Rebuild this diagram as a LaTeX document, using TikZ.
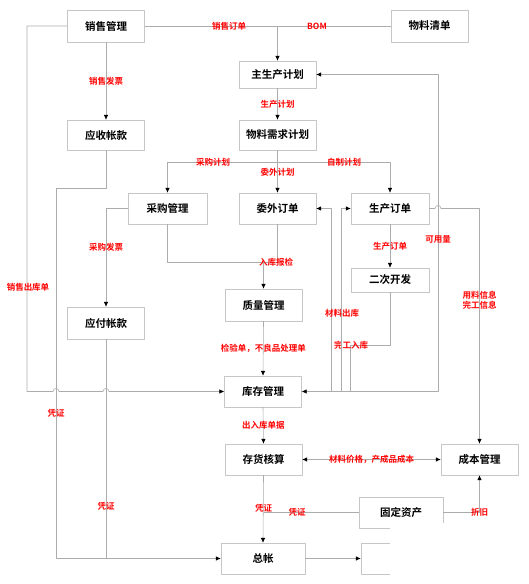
\documentclass[tikz,border=0pt]{standalone}
\usepackage{fontspec}
\newfontfamily\cjk{Noto Sans CJK SC}[BoldFont={Noto Sans CJK SC Bold}]
\usetikzlibrary{arrows.meta}

\tikzset{
  box/.style={draw=gray!45, minimum width=77pt, minimum height=31pt, inner sep=0pt,
    font=\cjk\bfseries\fontsize{10.5}{11}\selectfont},
  lab/.style={text=red, font=\cjk\bfseries\fontsize{8.5}{10}\selectfont, inner sep=0.5pt, align=center},
  conn/.style={draw=gray!65, line width=0.6pt},
}

\begin{document}
\begin{tikzpicture}[x=1pt, y=-1pt, >={Latex[length=5pt,width=4.5pt,color=black]}, line join=round]
\useasboundingbox (0,0) rectangle (529,584);
% boxes
\node[box, minimum height=32pt] (xs) at (106,26) {销售管理};
\node[box, minimum height=32pt] (bom) at (429.5,26) {物料清单};
\node[box, minimum height=27pt] (mps) at (277.5,74.5) {主生产计划};
\node[box, minimum height=30pt] (ar) at (106,135) {应收帐款};
\node[box, minimum height=30pt] (mrp) at (277.5,135) {物料需求计划};
\node[box, minimum width=79pt] (cg) at (167.5,208.5) {采购管理};
\node[box] (ww) at (277.5,208.5) {委外订单};
\node[box, minimum width=78pt] (sc) at (390,208.5) {生产订单};
\node[box, minimum height=24pt, minimum width=78pt] (ecc) at (390,280) {二次开发};
\node[box, minimum height=32pt] (ap) at (106,323) {应付帐款};
\node[box, minimum height=32pt] (zl) at (263.5,305) {质量管理};
\node[box] (kc) at (263,391.5) {库存管理};
\node[box] (ch) at (263.5,459.5) {存货核算};
\node[box] (cb) at (479.5,459.5) {成本管理};
\node[box, minimum width=84pt] (gd) at (401,512.5) {固定资产};
\node[box, minimum width=84pt] (zz) at (263,558.5) {总帐};
\node[box, minimum width=84pt] (bb) at (403,558.5) {};

% top row
\draw[conn] (xs.east) -- (bom.west);
\coordinate (jt) at (277.5,26);
\draw[conn,->] (jt) -- (mps.north);
\node[lab] (l1) at (229,26) {销售订单};
\node[lab] (l2) at (317,26) {BOM};
\draw[conn,->] (xs.south) -- node[lab] (l3) {销售发票} (ar.north);
\draw[conn,->] (mps.south) -- node[lab] (l4) {生产计划} (mrp.north);

% plans
\coordinate (br) at (277.5,162);
\draw[conn] (mrp.south) -- (br);
\draw[conn,->] (br) -| (cg.north);
\draw[conn,->] (br) -- (ww.north);
\draw[conn,->] (br) -| (sc.north);
\node[lab] (l5) at (213,162) {采购计划};
\node[lab] (l6) at (277.5,172) {委外计划};
\node[lab] (l7) at (344,162) {自制计划};

% available qty
\draw[conn,<->] (mps.east) -- (438,74.5) -- (438,391.5) -- (kc.east);
\node[lab] (l8) at (438,239) {可用量};

% purchase / receivables
\draw[conn,->] (cg.west) -| (ap.north);
\node[lab] (l9) at (106,247) {采购发票};
\draw[conn,->] (ar.south) -- (106,188) -- (56,188) -- (56,558.5) -- (zz.west);
\node[lab] (l10) at (56,413) {凭证};
\draw[conn] (ap.south) -- (106,558.5);
\node[lab] (l11) at (106,506) {凭证};
\draw[conn,->] (xs.west) -- (27,26) -- (27,391.5) -- (53,391.5)
  .. controls (53,387.5) and (59,387.5) .. (59,391.5) -- (103,391.5)
  .. controls (103,387.5) and (109,387.5) .. (109,391.5) -- (kc.west);
\node[lab] (l12) at (28,287) {销售出库单};

% inspection
\coordinate (rk) at (263.5,262);
\draw[conn] (cg.south) -- (cg.south |- rk) -- (rk);
\draw[conn] (ww.south) -- (ww.south |- rk) -- (rk);
\draw[conn,->] (rk) -- (zl.north);
\node[lab] (l13) at (276,262) {入库报检};
\draw[conn,->] (zl.south) -- node[lab] (l14) {检验单，不良品处理单} (kc.north);

% production orders
\draw[conn,->] (sc.south) -- node[lab] (l15) {生产订单} (ecc.north);
\draw[conn] (ecc.south) -- (390,345) -- (350,345) -- (350,391.5);
\node[lab] (l16) at (351,345) {完工入库};
\draw[conn,->] (331,391.5) -- (331,208.5) -- (ww.east);
\draw[conn,->] (341,391.5) -- (341,208.5) -- (sc.west);
\node[lab] (l17) at (342,313) {材料出库};
\draw[conn,->] (sc.east) -- (435,208.5) .. controls (435,204.5) and (441,204.5) .. (441,208.5)
  -- (479.5,208.5) -- (cb.north);
\node[lab] (l18) at (479.5,300) {用料信息\\完工信息};

% accounting
\draw[conn,->] (kc.south) -- node[lab] (l19) {出入库单据} (ch.north);
\draw[conn,<->] (ch.east) -- node[lab] (l20) {材料价格，产成品成本} (cb.west);
\draw[conn,->] (ch.south) -- (zz.north);
\node[lab] (l21) at (263.5,508) {凭证};
\draw[conn] (gd.west) -- (263.5,512.5);
\node[lab] (l22) at (297,512.5) {凭证};
\draw[conn,->] (gd.east) -| (cb.south);
\node[lab] (l23) at (479.5,512.5) {折旧};
\draw[conn,->] (zz.east) -- (bb.west);

% white patch over the lower right corner
\fill[white] (390,523) rectangle (529,584);
\end{tikzpicture}
\end{document}
